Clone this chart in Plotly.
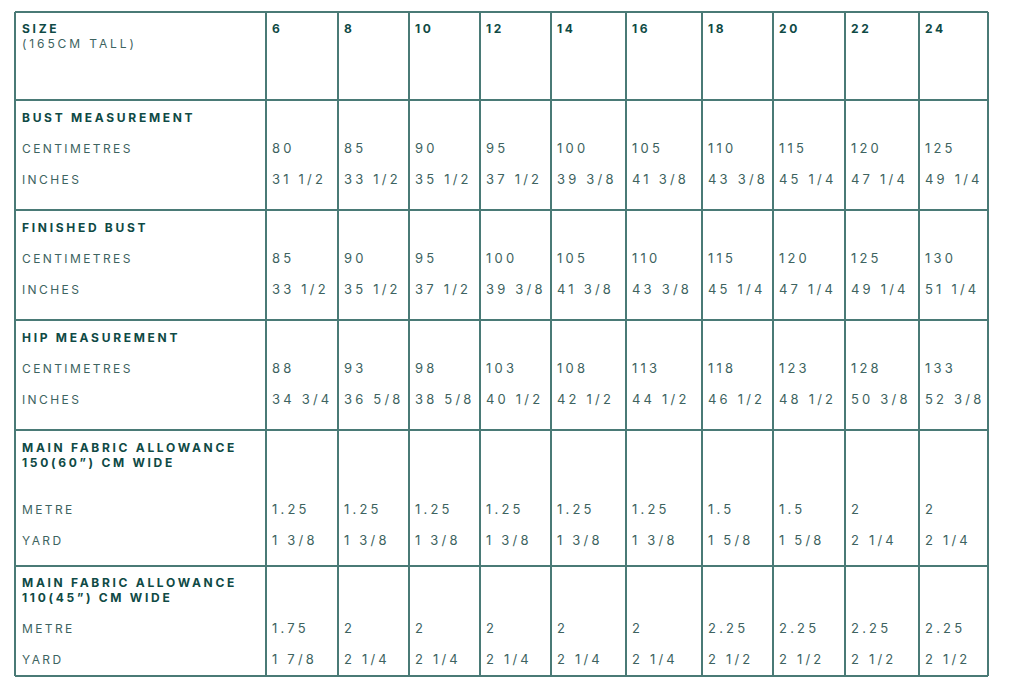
"""
Size chart table drawn with Plotly scatter text and grid shapes.
"""

import plotly.graph_objects as go

sizes = ["6", "8", "10", "12", "14", "16", "18", "20", "22", "24"]

bust_cm = ["80", "85", "90", "95", "100", "105", "110", "115", "120", "125"]
bust_in = ["31 1/2", "33 1/2", "35 1/2", "37 1/2", "39 3/8", "41 3/8", "43 3/8", "45 1/4", "47 1/4", "49 1/4"]

finished_cm = ["85", "90", "95", "100", "105", "110", "115", "120", "125", "130"]
finished_in = ["33 1/2", "35 1/2", "37 1/2", "39 3/8", "41 3/8", "43 3/8", "45 1/4", "47 1/4", "49 1/4", "51 1/4"]

hip_cm = ["88", "93", "98", "103", "108", "113", "118", "123", "128", "133"]
hip_in = ["34 3/4", "36 5/8", "38 5/8", "40 1/2", "42 1/2", "44 1/2", "46 1/2", "48 1/2", "50 3/8", "52 3/8"]

fab150_metre = ["1.25", "1.25", "1.25", "1.25", "1.25", "1.25", "1.5", "1.5", "2", "2"]
fab150_yard = ["1 3/8", "1 3/8", "1 3/8", "1 3/8", "1 3/8", "1 3/8", "1 5/8", "1 5/8", "2 1/4", "2 1/4"]

fab110_metre = ["1.75", "2", "2", "2", "2", "2", "2.25", "2.25", "2.25", "2.25"]
fab110_yard = ["1 7/8", "2 1/4", "2 1/4", "2 1/4", "2 1/4", "2 1/4", "2 1/2", "2 1/2", "2 1/2", "2 1/2"]

# layout of the grid (pixel coords in the screenshot)
col_edges = [15, 266, 338, 409, 480, 551, 626, 702, 773, 845, 919, 988]
row_edges = [12, 100, 210, 320, 430, 566, 676]
OFFSET = 8  # page body margin
DY = 2      # text baseline nudge

LINE = "#4a7a76"
DARK = "#0f4a45"
TEXT = "#3d6360"
FONT = "Inter"


def spaced(s, ls):
    return f'<span style="letter-spacing:{ls}px">{s}</span>'


fig = go.Figure()


def add_text(xs, ys, texts, bold=False, size=12, ls=2.4, color=TEXT):
    fig.add_trace(go.Scatter(
        x=xs, y=[y + DY for y in ys], mode="text",
        text=[spaced(t, ls) for t in texts],
        textposition="middle right",
        textfont=dict(family=FONT, size=size, color=color,
                      weight=700 if bold else 400),
        hoverinfo="skip", showlegend=False))


# header row
add_text([22], [row_edges[0] + 16], ["SIZE"], bold=True, color=DARK, ls=2.7)
add_text([22], [row_edges[0] + 31], ["(165CM TALL)"], ls=2.9)
add_text([e + 6 for e in col_edges[1:-1]], [row_edges[0] + 16] * len(sizes), sizes,
         bold=True, color=DARK, ls=2.7)

sections = [
    (["BUST MEASUREMENT"], ["CENTIMETRES", "INCHES"], [bust_cm, bust_in], [17], [48, 79]),
    (["FINISHED BUST"], ["CENTIMETRES", "INCHES"], [finished_cm, finished_in], [17], [48, 79]),
    (["HIP MEASUREMENT"], ["CENTIMETRES", "INCHES"], [hip_cm, hip_in], [17], [48, 79]),
    (["MAIN FABRIC ALLOWANCE", "150(60\u201d) CM WIDE"], ["METRE", "YARD"],
     [fab150_metre, fab150_yard], [17, 32], [79, 110]),
    (["MAIN FABRIC ALLOWANCE", "110(45\u201d) CM WIDE"], ["METRE", "YARD"],
     [fab110_metre, fab110_yard], [16, 31], [62, 93]),
]

for i, (titles, labels, rows, t_off, r_off) in enumerate(sections):
    top = row_edges[i + 1]
    add_text([22] * len(titles), [top + o for o in t_off], titles,
             bold=True, color=DARK, ls=2.7)
    add_text([22] * len(labels), [top + o for o in r_off], labels, ls=2.4)
    for vals, o in zip(rows, r_off):
        add_text([e + 6 for e in col_edges[1:-1]], [top + o] * len(vals), vals,
                 size=13, ls=3.2)

# grid lines
for x in col_edges:
    fig.add_shape(type="line", x0=x, x1=x, y0=row_edges[0], y1=row_edges[-1],
                  line=dict(color=LINE, width=2))
for y in row_edges:
    fig.add_shape(type="line", x0=col_edges[0], x1=col_edges[-1], y0=y, y1=y,
                  line=dict(color=LINE, width=2))

fig.update_layout(
    width=1024, height=690,
    margin=dict(l=0, r=0, t=0, b=0),
    paper_bgcolor="white", plot_bgcolor="white",
    xaxis=dict(range=[OFFSET, 1024 + OFFSET], visible=False, fixedrange=True),
    yaxis=dict(range=[690 + OFFSET, OFFSET], visible=False, fixedrange=True),
    showlegend=False,
)

fig.write_html("out.html")
